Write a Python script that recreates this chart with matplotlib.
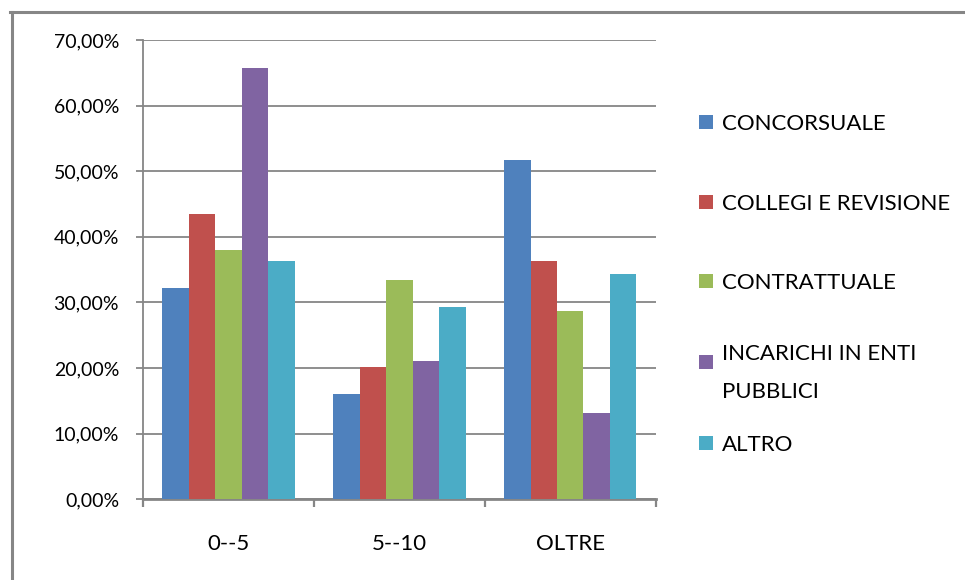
import matplotlib
matplotlib.use("Agg")
import matplotlib.pyplot as plt
from matplotlib.patches import Rectangle
from matplotlib.lines import Line2D
import numpy as np

plt.rcParams['font.family'] = ['Lato', 'DejaVu Sans']

categories = ["0--5", "5--10", "OLTRE"]
series_names = ["CONCORSUALE", "COLLEGI E REVISIONE", "CONTRATTUALE",
                "INCARICHI IN ENTI\nPUBBLICI", "ALTRO"]
series_colors = ["#4F81BD", "#C0504D", "#9BBB59", "#8064A2", "#4BACC6"]

concorsuale = [0.322, 0.160, 0.517]
collegi = [0.435, 0.202, 0.363]
contrattuale = [0.380, 0.334, 0.287]
incarichi = [0.658, 0.211, 0.132]
altro = [0.363, 0.293, 0.343]
values = [concorsuale, collegi, contrattuale, incarichi, altro]

y_ticks = [0.0, 0.1, 0.2, 0.3, 0.4, 0.5, 0.6, 0.7]
y_tick_labels = ["0,00%", "10,00%", "20,00%", "30,00%", "40,00%",
                 "50,00%", "60,00%", "70,00%"]

W, H = 965, 580
fig = plt.figure(figsize=(W / 100, H / 100), dpi=100)
fig.patch.set_facecolor("white")

ax = fig.add_axes([143 / W, 1 - 499.3 / H, (655.7 - 143) / W, (499.3 - 40) / H])

grey = "#868686"
n = len(values)
bar_w = 0.155
x = np.arange(len(categories))
for i, (vals, col) in enumerate(zip(values, series_colors)):
    offs = (i - (n - 1) / 2) * bar_w
    ax.bar(x + offs, vals, width=bar_w, color=col, zorder=3, linewidth=0)

ax.set_xlim(-0.5, len(categories) - 0.5)
ax.set_ylim(0, 0.7)
ax.set_yticks(y_ticks)
ax.set_yticklabels(y_tick_labels)
ax.yaxis.grid(True, color=grey, linewidth=1.3, zorder=0)
ax.set_axisbelow(True)

ax.set_xticks(x)
ax.set_xticklabels(categories)
ax.set_xticks(np.arange(-0.5, len(categories)), minor=True)
ax.tick_params(axis='x', which='major', length=0, pad=25, labelsize=16, colors='black')
ax.tick_params(axis='x', which='minor', length=6, width=1.6, color=grey, direction='out')
ax.tick_params(axis='y', length=5.2, width=1.3, color=grey, pad=12, labelsize=14,
               labelcolor='black')

for side in ["top", "right"]:
    ax.spines[side].set_visible(False)
ax.spines["left"].set_color(grey)
ax.spines["left"].set_linewidth(1.3)
ax.spines["bottom"].set_color(grey)
ax.spines["bottom"].set_linewidth(2.0)

# legend drawn as squares with labels to the right of the plot
legend_y = [122, 202, 281, 362, 443]
for name, col, yc in zip(series_names, series_colors, legend_y):
    fig.add_artist(Rectangle((699 / W, 1 - (yc + 7) / H), 14 / W, 14 / H,
                             transform=fig.transFigure, facecolor=col, edgecolor='none'))
    fig.text(722 / W, 1 - yc / H, name, fontsize=16, va='center_baseline', ha='left',
             linespacing=2.1, color='black')

# outer chart frame (top and left edges)
fig.add_artist(Line2D([11.5 / W, 11.5 / W], [1 - 11.5 / H, 0], transform=fig.transFigure,
                      color=grey, linewidth=2.2))
fig.add_artist(Line2D([10 / W, 1], [1 - 11.5 / H, 1 - 11.5 / H], transform=fig.transFigure,
                      color=grey, linewidth=2.2))

fig.savefig("out.png", dpi=100, facecolor="white")
